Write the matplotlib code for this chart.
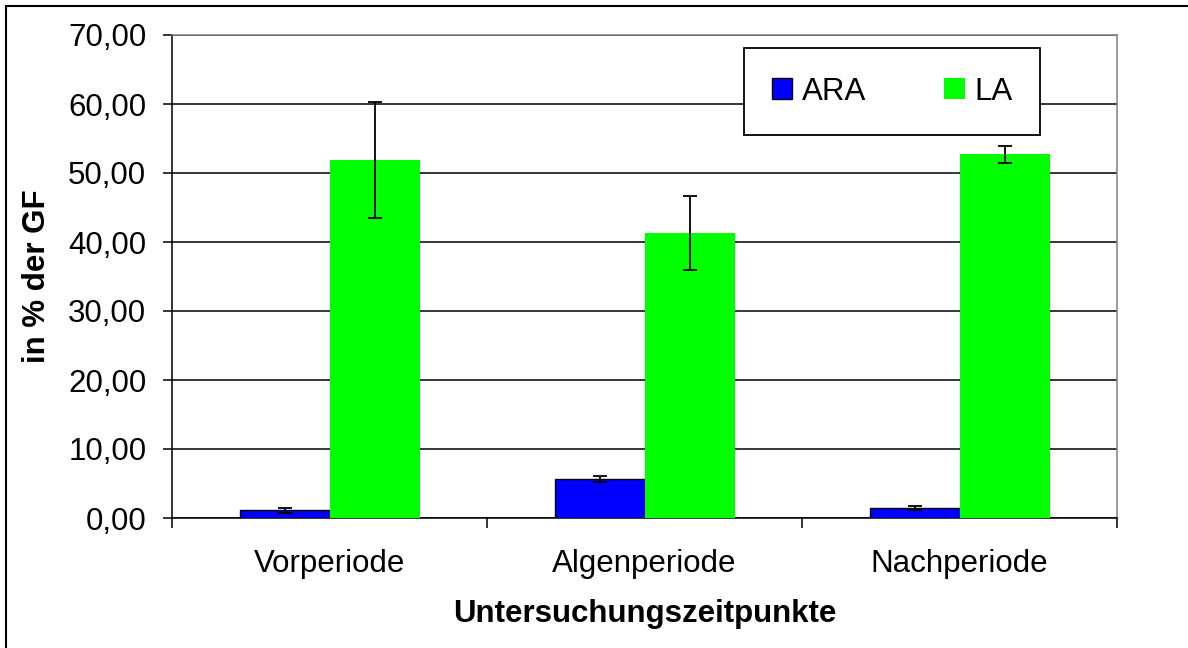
import numpy as np
import matplotlib.pyplot as plt
from matplotlib.patches import Rectangle
from matplotlib.ticker import FuncFormatter

plt.rcParams['font.family'] = ['Liberation Sans', 'DejaVu Sans']

categories = ['Vorperiode', 'Algenperiode', 'Nachperiode']
ara_values = [1.15, 5.65, 1.45]
ara_errors = [0.36, 0.5, 0.3]
la_values = [51.9, 41.3, 52.7]
la_errors = [8.4, 5.4, 1.2]
y_ticks = [0, 10, 20, 30, 40, 50, 60, 70]

fs = 22.5
fig = plt.figure(figsize=(11.88, 6.48), dpi=100)
ax = fig.add_axes([172 / 1188, 1 - 518 / 648, 945 / 1188, 483 / 648])

x = np.arange(len(categories))
w = 90 / 315
err_kw = {'ecolor': 'black', 'elinewidth': 1.3, 'capsize': 4.7, 'capthick': 1.3}
ax.bar(x - w / 2, ara_values, w, yerr=ara_errors, color='#0000FF',
       edgecolor='black', linewidth=1.0, label='ARA', error_kw=err_kw, zorder=3)
ax.bar(x + w / 2, la_values, w, yerr=la_errors, color='#00FF00',
       linewidth=0, label='LA', error_kw=err_kw, zorder=3)

ax.set_xlim(-0.5, 2.5)
ax.set_ylim(0, 70)
ax.set_yticks(y_ticks)
ax.yaxis.set_major_formatter(FuncFormatter(lambda v, p: f'{v:.2f}'.replace('.', ',')))
ax.yaxis.grid(True, color='black', linewidth=1.1, zorder=0)
ax.set_axisbelow(True)

ax.set_xticks(x)
ax.set_xticklabels(categories)
ax.set_xticks([-0.5, 0.5, 1.5, 2.5], minor=True)
ax.tick_params(axis='x', which='major', length=0, pad=22, labelsize=fs)
ax.tick_params(axis='x', which='minor', length=7, width=1.1, direction='out')
ax.tick_params(axis='y', length=6.5, width=1.1, direction='out', pad=12, labelsize=fs)

for s in ['top', 'right']:
    ax.spines[s].set_color('#808080')
    ax.spines[s].set_linewidth(1.1)
for s in ['left', 'bottom']:
    ax.spines[s].set_color('black')
    ax.spines[s].set_linewidth(1.1)

ax.set_ylabel('in % der GF', fontsize=fs, fontweight='bold')
ax.yaxis.set_label_coords(-0.127, 0.5)
ax.set_xlabel('Untersuchungszeitpunkte', fontsize=fs, fontweight='bold', va='top')
ax.xaxis.set_label_coords(0.5, -0.168)

leg = ax.legend(loc='center', bbox_to_anchor=(0.762, 0.883), ncol=2, fontsize=fs,
                frameon=True, fancybox=False, edgecolor='black', framealpha=1,
                handlelength=0.65, handleheight=0.65, handletextpad=0.3,
                columnspacing=2.5, borderpad=0.9)
leg.get_frame().set_linewidth(1.3)

fig.add_artist(Rectangle((6 / 1188, -0.1), 1.2, 1.1 - 6 / 648, transform=fig.transFigure,
                         fill=False, edgecolor='black', linewidth=1.5, clip_on=False))

fig.savefig('out.png', dpi=100)
